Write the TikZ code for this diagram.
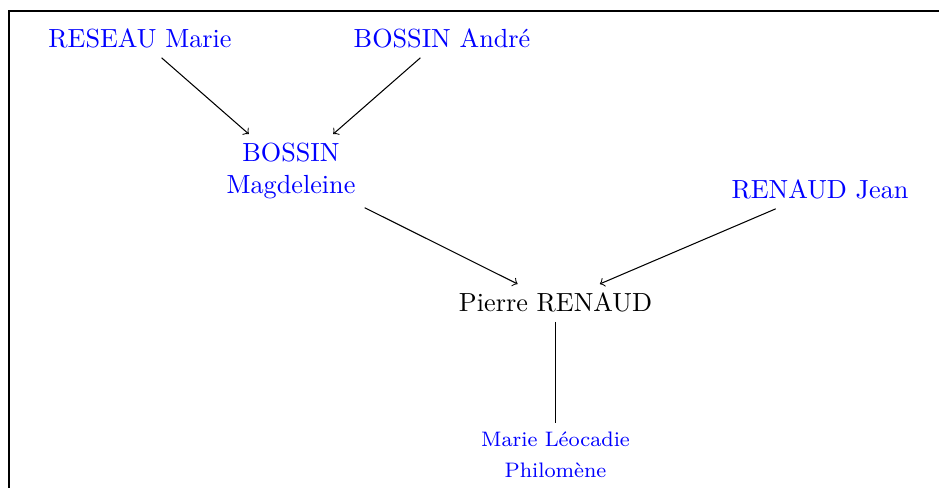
\documentclass[tikz,border=0pt]{standalone}
\begin{document}
\begin{tikzpicture}[x=0.3817pt,y=-0.3817pt,
  anc/.style={text=blue},
  me/.style={text=black},
  kid/.style={text=blue,font={\fontsize{8}{12}\selectfont},align=center},
  lnk/.style={->,line width=0.4pt}]
\useasboundingbox (0,0) rectangle (939,488);
\begin{scope}
\clip (0,0) rectangle (939,488);
\draw[line width=0.5pt] (9,495) -- (9,11) -- (950,11);
\end{scope}
\node[anc,anchor=base] (rm) at (140,48) {RESEAU Marie};
\node[anc,anchor=base] (ba) at (442,48) {BOSSIN André};
\node[anc,align=center] (bm) at (291,171) {BOSSIN\\Magdeleine};
\node[anc,anchor=base] (rj) at (820,199) {RENAUD Jean};
\node[me,anchor=base] (pr) at (555.5,312) {Pierre RENAUD};
\node[kid] (ml) at (555.5,455) {Marie Léocadie\\Philomène};
\draw[lnk] (rm) -- (bm);
\draw[lnk] (ba) -- (bm);
\draw[lnk] (bm) -- (pr);
\draw[lnk] (rj) -- (pr);
\draw (pr) -- (ml);
\end{tikzpicture}
\end{document}
